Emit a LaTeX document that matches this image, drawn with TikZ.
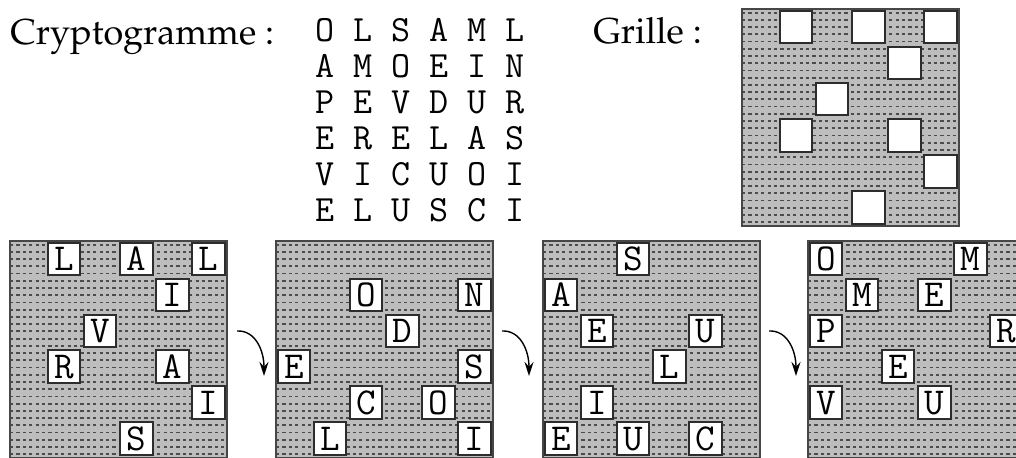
\documentclass[tikz,border=0pt]{standalone}
\usepackage[T1,TU]{fontenc}
\usetikzlibrary{arrows.meta}
\newcommand{\pala}{\fontencoding{T1}\fontfamily{ppl}\selectfont}

\tikzset{
    pics/fond/.style={code={
        \fill[gray!52] (0,0) rectangle (217,217);
        \foreach \k in {0,...,29}
            \draw[hachure] (0,{3.6+7.23*\k}) -- (217,{3.6+7.23*\k});
        \draw[gray!55!black, line width=0.8pt] (0,0) rectangle (217,217);
    }}
}

\begin{document}
\begin{tikzpicture}[
    x=0.5pt, y=-0.5pt,
    hachure/.style={draw=black!70, line width=0.9pt, dash pattern=on 1.6pt off 1.6pt},
    trou/.style={rectangle, draw=gray!35!black, line width=1pt, fill=white, minimum size=16.2pt, inner sep=0pt, text height=12pt, text depth=0pt, font=\ttfamily\fontsize{19}{19}\selectfont},
    titre/.style={anchor=base west, inner sep=0pt, font=\pala\fontsize{18}{20}\selectfont},
    crypto/.style={inner sep=0pt, text height=12pt, text depth=0pt, font=\ttfamily\fontsize{18.5}{17}\selectfont},
    tourne/.style={-{Stealth[length=7pt,width=4.5pt]}, line width=0.7pt}
]
\useasboundingbox (0,0) rectangle (1016,457);

% titres
\node[titre] (crypt) at (10,44) {Cryptogramme :};
\node[titre] (gril) at (593,43) {Grille :};

% cryptogramme
\foreach \ligne [count=\r from 0] in {{O,L,S,A,M,L},{A,M,O,E,I,N},{P,E,V,D,U,R},{E,R,E,L,A,S},{V,I,C,U,O,I},{E,L,U,S,C,I}}
    \foreach \l [count=\c from 0] in \ligne
        \node[crypto] (c-\r-\c) at ({325+38*\c},{29+36*\r}) {\l};

% grille
\pic at (742,9) {fond};
\foreach \c/\r [count=\i] in {1/0,3/0,5/0,4/1,2/2,1/3,4/3,5/4,3/5}
    \node[trou] (h-\i) at ({742+36.1*(\c+0.5)},{9+36.1*(\r+0.5)}) {};

% les quatre positions
\foreach \x/\lst [count=\g] in {
    10/{1/0/L,3/0/A,5/0/L,4/1/I,2/2/V,1/3/R,4/3/A,5/4/I,3/5/S},
    276/{2/1/O,5/1/N,3/2/D,0/3/E,5/3/S,2/4/C,4/4/O,1/5/L,5/5/I},
    543/{2/0/S,0/1/A,1/2/E,4/2/U,3/3/L,1/4/I,0/5/E,2/5/U,4/5/C},
    808/{0/0/O,4/0/M,1/1/M,3/1/E,0/2/P,5/2/R,2/3/E,0/4/V,3/4/U}} {
    \pic at (\x,241) {fond};
    \foreach \c/\r/\l [count=\i] in \lst
        \node[trou] (p\g-\i) at ({\x+36.1*(\c+0.5)},{241+35.9*(\r+0.5)}) {\l};
}

% rotations
\foreach \x [count=\k] in {237,502,769} {
    \coordinate (d\k) at (\x,331);
    \coordinate (f\k) at (\x+27,376);
    \draw[tourne] (d\k) .. controls +(18,-1) and +(0,-26) .. (f\k);
}
\end{tikzpicture}
\end{document}
